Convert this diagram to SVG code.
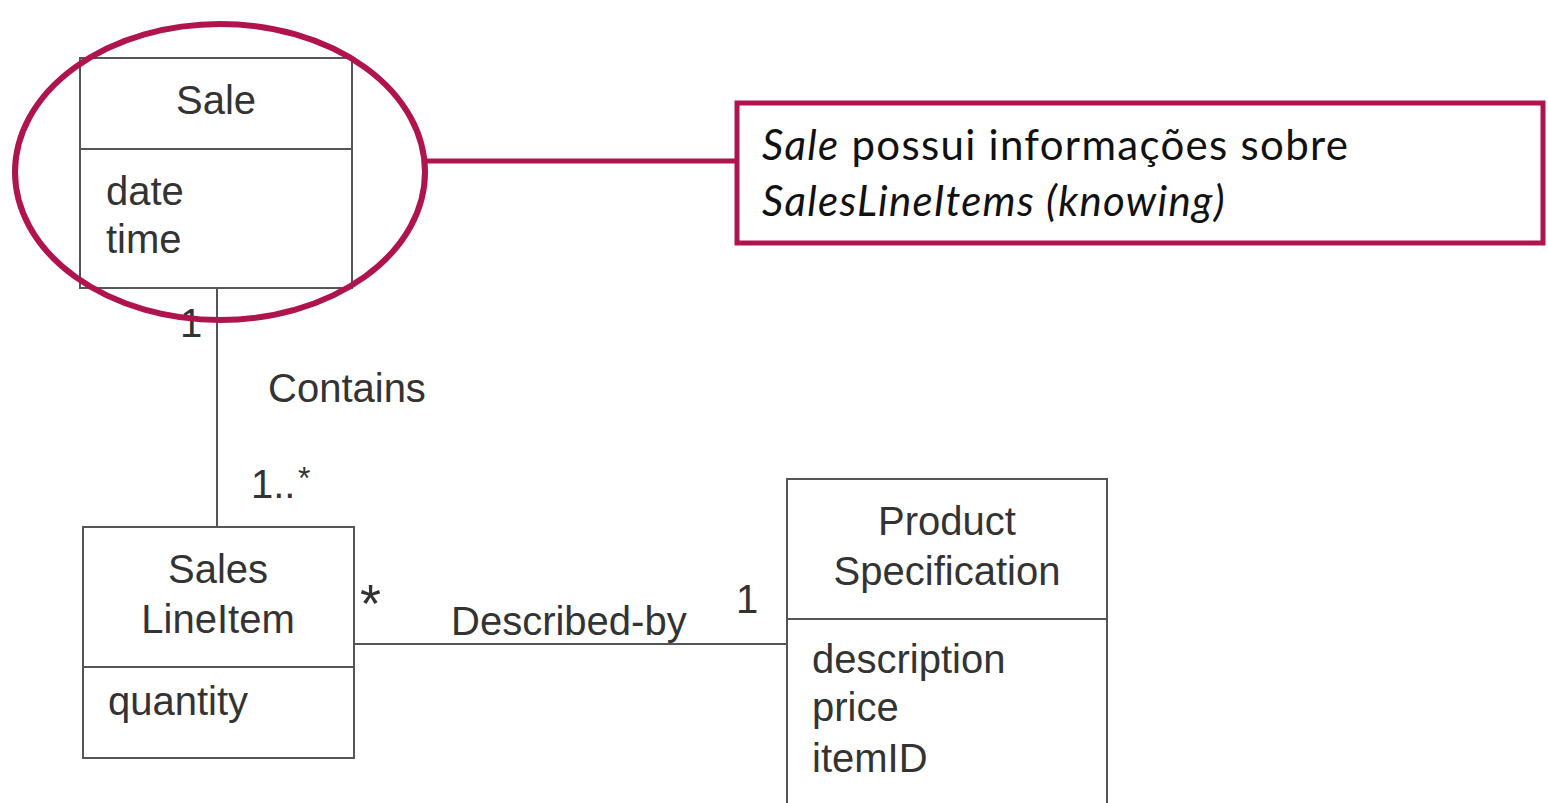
<svg xmlns="http://www.w3.org/2000/svg" width="1548" height="803" viewBox="0 0 1548 803">
<style>
.box{fill:#fff;stroke:#555;stroke-width:2}
.div{stroke:#555;stroke-width:2}
.t{font-family:"Liberation Sans",Arial,sans-serif;font-size:40px;fill:#333}
.c{text-anchor:middle}
.conn{stroke:#555;stroke-width:2;fill:none}
.hl{fill:none;stroke:#B0144E;stroke-width:6}
.note{font-family:Lato,"Open Sans",sans-serif;font-size:42px;letter-spacing:1.3px;fill:#111}
</style>
<rect width="1548" height="803" fill="#fff"/>
<g id="connectors">
<line class="conn" x1="217" y1="288" x2="217" y2="527"/>
<line class="conn" x1="354" y1="644" x2="787" y2="644"/>
<line x1="425" y1="161" x2="737" y2="161" stroke="#B0144E" stroke-width="5"/>
<text class="t" x="180" y="337">1</text>
<text class="t" x="268" y="402">Contains</text>
<text class="t" x="251" y="498">1..</text>
<text class="t" x="298" y="489" style="font-size:32px">*</text>
<text class="t" x="360" y="622" style="font-size:54px">*</text>
<text class="t" x="451" y="635">Described-by</text>
<text class="t" x="736" y="613">1</text>
</g>
<g id="sale">
<rect class="box" x="80" y="58" width="272" height="230"/>
<line class="div" x1="80" y1="149" x2="352" y2="149"/>
<text class="t c" x="216" y="114">Sale</text>
<text class="t" x="106" y="205">date</text>
<text class="t" x="106" y="253">time</text>
</g>
<g id="highlight">
<ellipse class="hl" cx="220" cy="172" rx="205" ry="148"/>
</g>
<g id="salesLineItem">
<rect class="box" x="83" y="527" width="271" height="231"/>
<line class="div" x1="83" y1="667" x2="354" y2="667"/>
<text class="t c" x="218" y="583">Sales</text>
<text class="t c" x="218" y="633">LineItem</text>
<text class="t" x="108" y="715">quantity</text>
</g>
<g id="productSpecification">
<rect class="box" x="787" y="479" width="320" height="340"/>
<line class="div" x1="787" y1="619" x2="1107" y2="619"/>
<text class="t c" x="947" y="535">Product</text>
<text class="t c" x="947" y="585">Specification</text>
<text class="t" x="812" y="673">description</text>
<text class="t" x="812" y="721">price</text>
<text class="t" x="812" y="772">itemID</text>
</g>
<g id="note">
<rect x="737" y="103" width="806" height="140" fill="#fff" stroke="#B0144E" stroke-width="5"/>
<text class="note" x="762" y="160"><tspan font-style="italic">Sale</tspan> possui informações sobre</text>
<text class="note" x="762" y="216" font-style="italic">SalesLineItems (knowing)</text>
</g>
</svg>
